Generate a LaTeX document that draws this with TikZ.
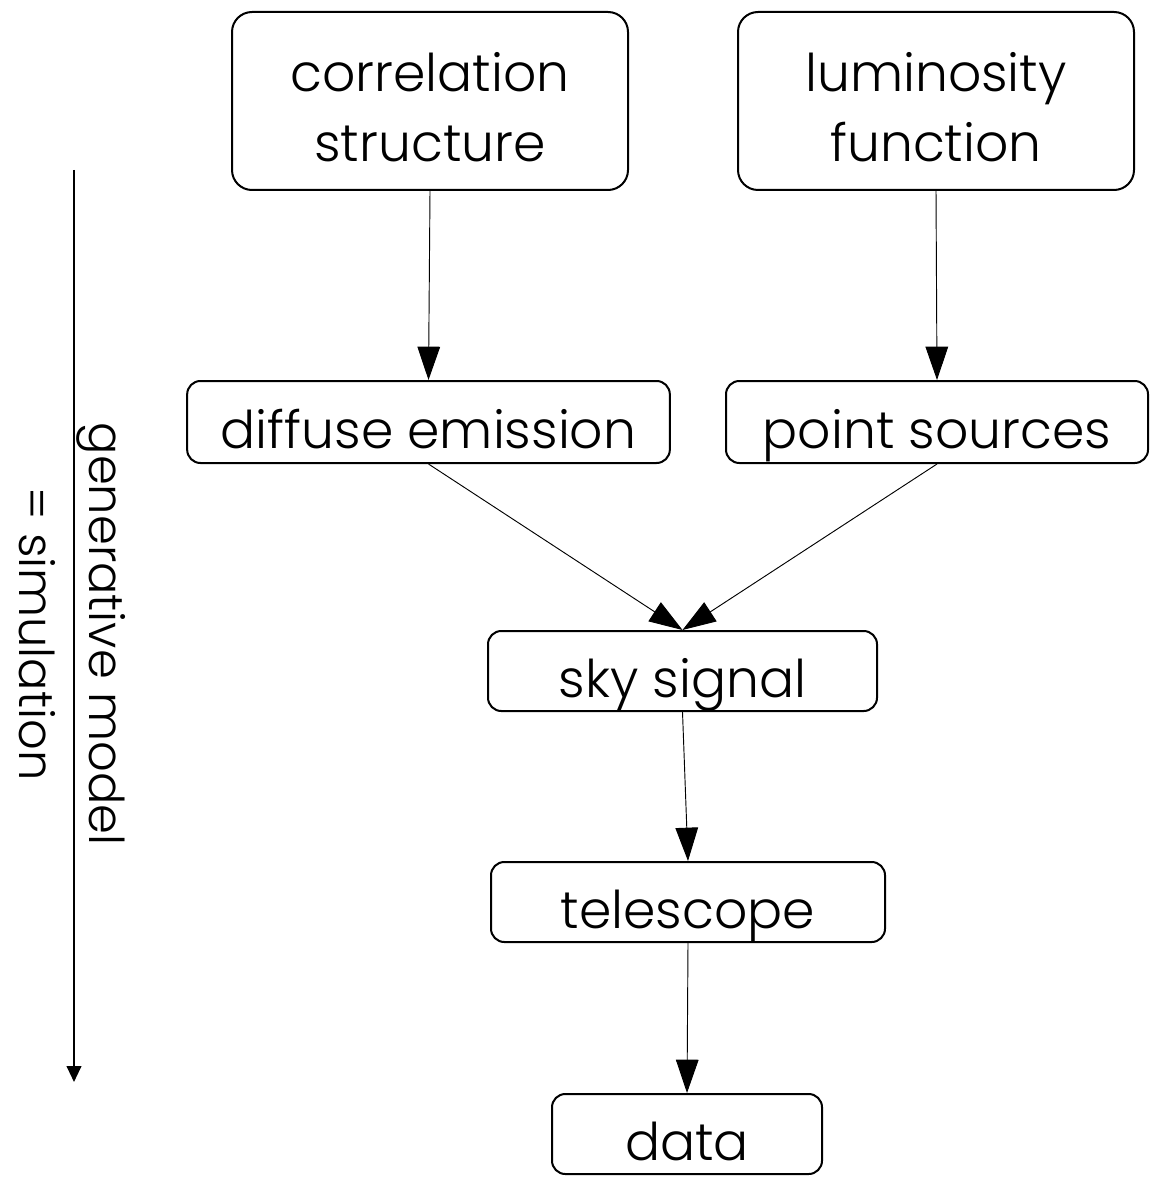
\documentclass[tikz,border=0pt]{standalone}
\usepackage{fontspec}
\setmainfont{Poppins}[UprightFont={* Light}]
\usetikzlibrary{arrows.meta}
\begin{document}
\begin{tikzpicture}[x=0.75pt,y=-0.75pt,
  box/.style={draw, line width=1.5pt, rounded corners=10pt, inner sep=0pt, align=center,
    text height=45pt, text depth=6pt,
    font=\fontsize{39pt}{52.5pt}\selectfont},
  bigbox/.style={box, rounded corners=15pt, minimum width=297pt, minimum height=133.5pt,
    text height=97.5pt, text depth=6pt},
  smallbox/.style={box, minimum height=60pt},
  conn/.style={line width=0.7pt, -{Triangle[length=25pt,width=17pt]}},
]
\useasboundingbox (0,0) rectangle (1150,1180);
\node[bigbox] (corr) at (430,101) {correlation\\structure};
\node[bigbox] (lum) at (936,101) {luminosity\\function};
\node[smallbox, minimum width=362pt, minimum height=61.5pt] (diff) at (428.5,422) {diffuse emission};
\node[smallbox, minimum width=316.5pt, minimum height=61.5pt] (pts) at (937,422) {point sources};
\node[smallbox, minimum width=291.75pt] (sky) at (682.5,671) {sky signal};
\node[smallbox, minimum width=295.5pt] (tel) at (688,902) {telescope};
\node[smallbox, minimum width=202.5pt] (data) at (687,1134) {data};
\draw[conn] (corr.south) -- (diff.north);
\draw[conn] (lum.south) -- (pts.north);
\draw[conn] (diff.south) -- (sky.north);
\draw[conn] (pts.south) -- (sky.north);
\draw[conn] (sky.south) -- (tel.north);
\draw[conn] (tel.south) -- (data.north);
\coordinate (gtop) at (74,170);
\coordinate (gbot) at (74,1082);
\draw[line width=1.5pt, -{Triangle[length=12pt,width=11pt]}] (gtop) -- (gbot);
\node[rotate=-90, align=center, font=\fontsize{36pt}{52.5pt}\selectfont] (lbl) at (72,634) {generative model\\= simulation};
\end{tikzpicture}
\end{document}
